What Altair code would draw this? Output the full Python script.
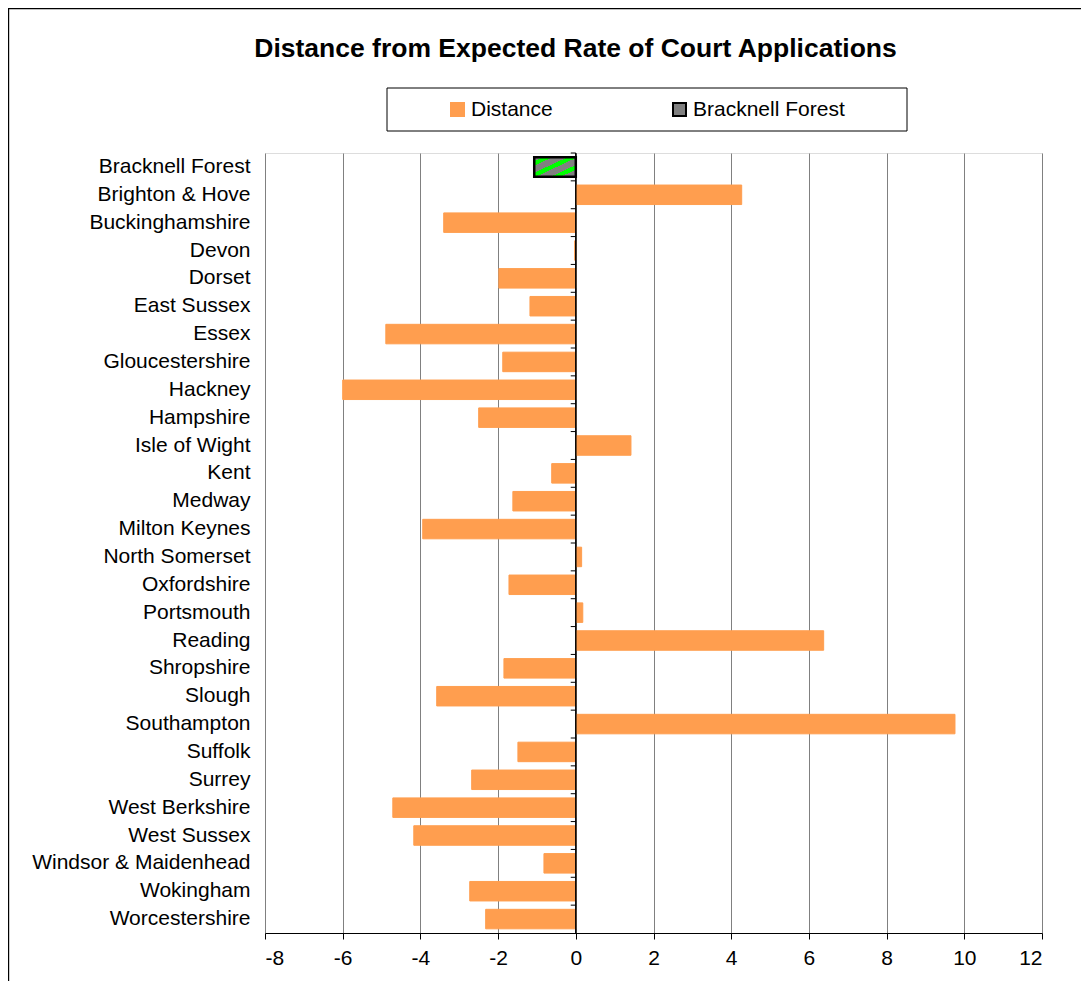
import altair as alt
import pandas as pd

names = ["Bracknell Forest", "Brighton & Hove", "Buckinghamshire", "Devon", "Dorset",
         "East Sussex", "Essex", "Gloucestershire", "Hackney", "Hampshire",
         "Isle of Wight", "Kent", "Medway", "Milton Keynes", "North Somerset",
         "Oxfordshire", "Portsmouth", "Reading", "Shropshire", "Slough",
         "Southampton", "Suffolk", "Surrey", "West Berkshire", "West Sussex",
         "Windsor & Maidenhead", "Wokingham", "Worcestershire"]
values = [-1.07, 4.27, -3.40, -0.03, -1.98,
          -1.18, -4.89, -1.88, -6.00, -2.50,
          1.42, -0.62, -1.62, -3.94, 0.15,
          -1.72, 0.18, 6.38, -1.85, -3.58,
          9.76, -1.49, -2.68, -4.71, -4.17,
          -0.82, -2.73, -2.32]
series = ["Bracknell Forest"] + ["Distance"] * (len(names) - 1)
title_text = "Distance from Expected Rate of Court Applications"
x_ticks = [-8, -6, -4, -2, 0, 2, 4, 6, 8, 10, 12]

ORANGE = "#FF9E4F"
GRAY = "#808080"
GREEN = "#00FF00"
FONT = "Liberation Sans"

df = pd.DataFrame({"name": names, "value": values, "series": series})
df_bf = df[df["series"] == "Bracknell Forest"]

stops = []
edges = [(0.10, 0.22), (0.40, 0.52), (0.70, 0.82)]
stops.append({"offset": 0, "color": GRAY})
for a, b in edges:
    stops += [{"offset": a, "color": GRAY}, {"offset": a, "color": GREEN},
              {"offset": b, "color": GREEN}, {"offset": b, "color": GRAY}]
stops.append({"offset": 1, "color": GRAY})
gradient = {"gradient": "linear", "x1": 0, "y1": 0, "x2": 1, "y2": 1, "stops": stops}

W, H = 777, 780
STEP = H / len(names)

y_enc = alt.Y("name:N", sort=names,
              scale=alt.Scale(paddingInner=0.3, paddingOuter=0.15),
              axis=alt.Axis(title=None, ticks=False, domain=False, labelFontSize=21,
                            labelFont=FONT, labelColor="black", labelPadding=15,
                            labelLimit=400))
x_enc = alt.X("value:Q", scale=alt.Scale(domain=[-8, 12], nice=False, zero=False),
              axis=alt.Axis(title=None, values=x_ticks, grid=True, gridColor=GRAY,
                            gridWidth=1, tickColor="black", tickSize=6, domainColor="black",
                            labelFontSize=21, labelFont=FONT, labelColor="black",
                            labelPadding=8, labelExpr="'' + datum.value"))

legend = alt.Legend(orient="none", legendX=182, legendY=-54, direction="horizontal",
                    title=None, labelFontSize=21, labelFont=FONT, labelColor="black",
                    symbolType="square", symbolSize=169, symbolStrokeWidth=2,
                    columnPadding=116, labelOffset=3, padding=0)

dom = ["Distance", "Bracknell Forest"]
bars = alt.Chart(df).mark_bar().encode(
    y=y_enc, x=x_enc,
    fill=alt.Fill("series:N", scale=alt.Scale(domain=dom, range=[ORANGE, GRAY]), legend=legend),
    stroke=alt.Stroke("series:N", scale=alt.Scale(domain=dom, range=[ORANGE, "black"]), legend=legend),
)

bf = alt.Chart(df_bf).mark_bar(fill=gradient, stroke="black", strokeWidth=2.5).encode(
    y=alt.Y("name:N", sort=names), x=alt.X("value:Q"))

zero = alt.Chart(df_bf).mark_rule(color="black", strokeWidth=1.5).encode(x=alt.datum(0))

ticks = alt.Chart(df).mark_rule(color="black", strokeWidth=1, yOffset=-STEP / 2).encode(
    y=alt.Y("name:N", sort=names), x=alt.datum(0), x2=alt.datum(-0.13))

frame_df = pd.DataFrame({"k": [0]})
legend_box = alt.Chart(frame_df).mark_rect(fillOpacity=0, stroke="black", strokeWidth=1).encode(
    x=alt.value(122), x2=alt.value(642), y=alt.value(-65), y2=alt.value(-22))
outer_box = alt.Chart(frame_df).mark_rect(fillOpacity=0, stroke="black", strokeWidth=1.2).encode(
    x=alt.value(-256.4), x2=alt.value(900), y=alt.value(-144.4), y2=alt.value(900))
title = alt.Chart(frame_df).mark_text(fontSize=26.5, fontWeight="bold", font=FONT,
                                      align="center", baseline="alphabetic", color="black").encode(
    x=alt.value(310.5), y=alt.value(-96), text=alt.value(title_text))

chart = alt.layer(outer_box, legend_box, title, bars, bf, zero, ticks).properties(
    width=W, height=H,
    autosize=alt.AutoSizeParams(type="none"),
    padding={"left": 257, "top": 145, "right": 39, "bottom": 48},
).configure_view(stroke=GRAY, strokeWidth=1).configure(background="white")

chart.save("out.html", embed_options={"renderer": "svg", "actions": False})
